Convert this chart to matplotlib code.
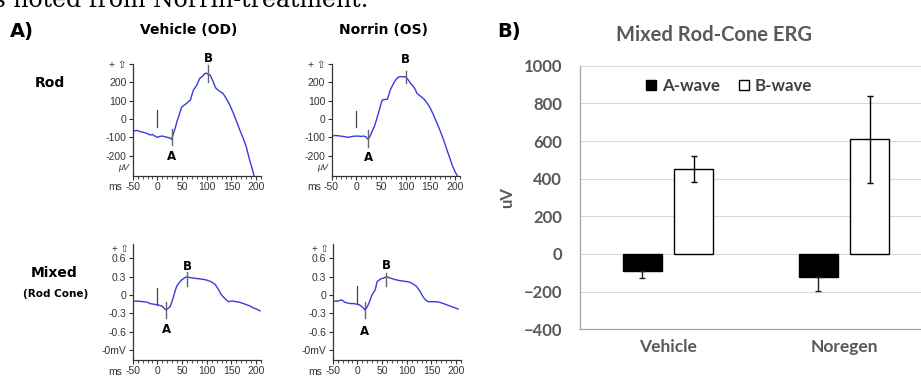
import numpy as np
import matplotlib
matplotlib.use('Agg')
import matplotlib.pyplot as plt

plt.rcParams['font.family'] = ['Liberation Sans', 'DejaVu Sans']

W, H = 921, 376

# ---- panel A: ERG traces (ms, amplitude) ----
rod_od_t = [-50, -45, -40, -35, -30, -25, -20, -15, -10, -5, 0, 5, 10, 15, 20, 25, 29, 32, 36, 40,
            44, 49, 54, 59, 63, 67, 73, 80, 86, 92, 96, 100, 103, 107, 113, 118, 123, 128, 133, 140,
            147, 154, 160, 167, 174, 180, 187, 192, 196]
rod_od_v = [-60, -65, -62, -69, -72, -75, -80, -87, -85, -93, -100, -95, -93, -97, -100, -103, -111, -85, -51, -10,
            20, 64, 75, 85, 95, 104, 158, 185, 222, 235, 248, 250, 243, 240, 204, 170, 158, 148, 140, 110,
            75, 31, -10, -60, -106, -150, -224, -270, -311]

rod_os_t = [-50, -42, -32, -25, -15, -8, 2, 10, 15, 20, 24, 28, 32, 37, 41, 46, 50, 53, 58, 63,
            66, 69, 75, 80, 85, 90, 95, 100, 105, 110, 116, 120, 123, 130, 137, 144, 150, 157, 164, 171,
            178, 184, 190, 195, 200, 206]
rod_os_v = [-93, -90, -93, -96, -100, -95, -93, -95, -93, -98, -111, -95, -69, -40, -5, 40, 80, 104, 106, 108,
            130, 158, 190, 213, 228, 231, 230, 231, 215, 195, 177, 160, 140, 125, 110, 86, 60, 20, -24, -70,
            -120, -169, -215, -255, -285, -315]

mix_od_t = [-50, -40, -28, -20, -15, -8, 0, 5, 9, 13, 17, 20, 23, 26, 29, 32, 35, 39, 44, 49,
            55, 60, 63, 70, 80, 90, 100, 108, 117, 123, 130, 137, 144, 150, 154, 160, 167, 174, 181, 188,
            194, 201, 208]
mix_od_v = [-0.10, -0.10, -0.11, -0.12, -0.14, -0.15, -0.16, -0.17, -0.18, -0.21,
            -0.245, -0.23, -0.21, -0.19, -0.12, -0.05, 0.04, 0.14, 0.20, 0.245,
            0.28, 0.30, 0.29, 0.28, 0.27, 0.26, 0.245, 0.22, 0.175, 0.10,
            0.00, -0.06, -0.11, -0.10, -0.10, -0.11, -0.12, -0.14, -0.16, -0.18,
            -0.21, -0.23, -0.26]

mix_os_t = [-50, -40, -32, -25, -15, -8, -1, 4, 9, 13, 15, 18, 22, 26, 29, 33, 36, 40, 45, 49,
            54, 59, 65, 72, 80, 90, 100, 106, 113, 120, 127, 133, 138, 144, 150, 155, 160, 167, 174, 181,
            191, 198, 204]
mix_os_v = [-0.10, -0.10, -0.08, -0.12, -0.14, -0.14, -0.15, -0.16, -0.19, -0.22,
            -0.245, -0.22, -0.16, -0.08, -0.01, 0.05, 0.08, 0.22, 0.25, 0.27,
            0.28, 0.30, 0.28, 0.265, 0.245, 0.23, 0.22, 0.21, 0.18, 0.14,
            0.06, -0.03, -0.08, -0.11, -0.11, -0.11, -0.11, -0.12, -0.14, -0.16,
            -0.19, -0.21, -0.23]

# marker lines: (time, low, high), label y
rod_od_marks = {'stim': (0, -45, 48), 'A': (29, -142, -55, -205), 'B': (103, 204, 295, 330)}
rod_os_marks = {'stim': (0, -45, 45), 'A': (24, -151, -60, -210), 'B': (100, 195, 264, 325)}
mix_od_marks = {'stim': (0, -0.16, 0.12), 'A': (18, -0.38, -0.12, -0.56), 'B': (61, 0.14, 0.38, 0.46)}
mix_os_marks = {'stim': (0, -0.14, 0.14), 'A': (15, -0.38, -0.12, -0.59), 'B': (59, 0.15, 0.36, 0.49)}

x_ticks = [-50, 0, 50, 100, 150, 200]
rod_yticks = [-200, -100, 0, 100, 200, 300]
rod_ylabels = ['-200', '-100', '0', '100', '200', '+ \u21e7']
mix_yticks = [-0.9, -0.6, -0.3, 0, 0.3, 0.6]
mix_ylabels = ['-0mV', '-0.6', '-0.3', '0', '0.3', '0.6']

# ---- panel B: bar chart ----
groups = ['Vehicle', 'Noregen']
a_wave = [-90, -120]
a_err = [36, 75]
b_wave = [450, 609]
b_err = [70, 231]


def box(l, t, r, b):
    return [l / W, 1 - b / H, (r - l) / W, (b - t) / H]


fig = plt.figure(figsize=(W / 100, H / 100), dpi=100)

fig.text(368 / W, 1 - 7 / H, 'is noted from Norrin-treatment.', ha='right', va='baseline',
         family='DejaVu Serif', fontsize=17)


def erg(rect, t, v, marks, ylim, yticks, ylabels, unit, top_y):
    ax = fig.add_axes(rect)
    ax.plot(t, v, color='#3a3adf', lw=1.0, clip_on=True)
    ax.set_xlim(-50, 210)
    ax.set_ylim(*ylim)
    for s in ['top', 'right']:
        ax.spines[s].set_visible(False)
    for s in ['left', 'bottom']:
        ax.spines[s].set_color('#333333')
        ax.spines[s].set_linewidth(0.9)
    ax.set_xticks(x_ticks)
    ax.set_xticklabels([str(x) for x in x_ticks])
    ax.set_xticks(np.arange(-50, 211, 10), minor=True)
    ax.set_yticks(yticks)
    ax.set_yticklabels(ylabels)
    ax.tick_params(labelsize=7.5, colors='#333333', length=3, width=0.8, pad=1.5)
    ax.tick_params(which='minor', length=2, width=0.6, colors='#333333')
    ax.text(-0.08, -0.1, 'ms', transform=ax.transAxes, ha='right', va='center', fontsize=7.5, color='#333333')
    if unit:
        ax.text(-0.03, 0.08, unit, transform=ax.transAxes, ha='right', va='center', fontsize=6.5,
                style='italic', color='#333333')
    if top_y is not None:
        ax.text(-0.03, top_y, '+ \u21e7', transform=ax.transAxes, ha='right', va='center', fontsize=7,
                color='#333333')
    st = marks['stim']
    ax.plot([st[0], st[0]], [st[1], st[2]], color='#444444', lw=0.9)
    for k in ['A', 'B']:
        m = marks[k]
        ax.plot([m[0], m[0]], [m[1], m[2]], color='#666666', lw=1.0)
        ax.text(m[0], m[3], k, ha='center', va='center', fontsize=8.5, fontweight='bold',
                family='DejaVu Sans', clip_on=False)
    return ax


erg(box(132.7, 64, 261, 176), rod_od_t, rod_od_v, rod_od_marks, (-311, 300), rod_yticks, rod_ylabels, '\u03bcV', None)
erg(box(331.5, 64, 459.8, 176), rod_os_t, rod_os_v, rod_os_marks, (-311, 300), rod_yticks, rod_ylabels, '\u03bcV', None)
erg(box(132.7, 244, 261, 360), mix_od_t, mix_od_v, mix_od_marks, (-1.064, 0.835), mix_yticks, mix_ylabels, None, 0.955)
erg(box(332.7, 244, 461, 360), mix_os_t, mix_os_v, mix_os_marks, (-1.064, 0.835), mix_yticks, mix_ylabels, None, 0.955)

bold = dict(family='DejaVu Sans', fontweight='bold')
fig.text(10 / W, 1 - 31 / H, 'A)', fontsize=14, ha='left', va='center', **bold)
fig.text(189 / W, 1 - 30 / H, 'Vehicle (OD)', fontsize=10, ha='center', va='center', **bold)
fig.text(383 / W, 1 - 30 / H, 'Norrin (OS)', fontsize=10, ha='center', va='center', **bold)
fig.text(50 / W, 1 - 83 / H, 'Rod', fontsize=10, ha='center', va='center', **bold)
fig.text(54 / W, 1 - 273 / H, 'Mixed', fontsize=10, ha='center', va='center', **bold)
fig.text(56 / W, 1 - 294 / H, '(Rod Cone)', fontsize=7.5, ha='center', va='center', **bold)

# panel B
gray = '#595959'
axb = fig.add_axes(box(580, 65.7, 932, 329.3))
x = np.arange(len(groups))
off, bw = 0.145, 0.22
axb.bar(x - off, a_wave, bw, color='black', edgecolor='black', lw=1, label='A-wave', zorder=3)
axb.bar(x + off, b_wave, bw, color='white', edgecolor='black', lw=1, label='B-wave', zorder=3)
axb.errorbar(x - off, a_wave, yerr=[a_err, [0] * len(a_err)], fmt='none', ecolor='#222222',
             elinewidth=1, capsize=2, zorder=4)
axb.errorbar(x + off, b_wave, yerr=b_err, fmt='none', ecolor='black', elinewidth=1, capsize=2, zorder=4)
axb.set_xlim(-0.5, 1.5)
axb.set_ylim(-400, 1000)
axb.set_yticks(np.arange(-400, 1001, 200))
axb.grid(axis='y', color='#d9d9d9', lw=0.8, zorder=0)
axb.set_axisbelow(True)
for s in ['top', 'right']:
    axb.spines[s].set_visible(False)
for s in ['left', 'bottom']:
    axb.spines[s].set_color('#a6a6a6')
    axb.spines[s].set_linewidth(0.9)
axb.set_xticks(x)
axb.set_xticklabels(groups)
axb.tick_params(length=0, pad=13, colors=gray, labelsize=12)
axb.tick_params(axis='x', pad=7, labelsize=12.5)
for lab in axb.get_xticklabels() + axb.get_yticklabels():
    lab.set_fontweight('bold')
    lab.set_family('Lato')
axb.set_ylabel('uV', fontsize=12, color=gray, fontweight='bold', family='Lato')
axb.yaxis.set_label_coords(-0.185, 0.5)
axb.set_title('Mixed Rod-Cone ERG', fontsize=14.5, color=gray, fontweight='bold', family='Lato', pad=18, x=0.38)
leg = axb.legend(loc='center left', bbox_to_anchor=(0.145, 0.923), ncol=2, frameon=False,
                 prop={'family': 'Lato', 'weight': 'bold', 'size': 12.2}, handlelength=0.6, handleheight=0.6,
                 columnspacing=1.1, handletextpad=0.35)
for t in leg.get_texts():
    t.set_color('#404040')
fig.text(497 / W, 1 - 31 / H, 'B)', fontsize=14, ha='left', va='center', **bold)

fig.savefig('out.png', dpi=100)
